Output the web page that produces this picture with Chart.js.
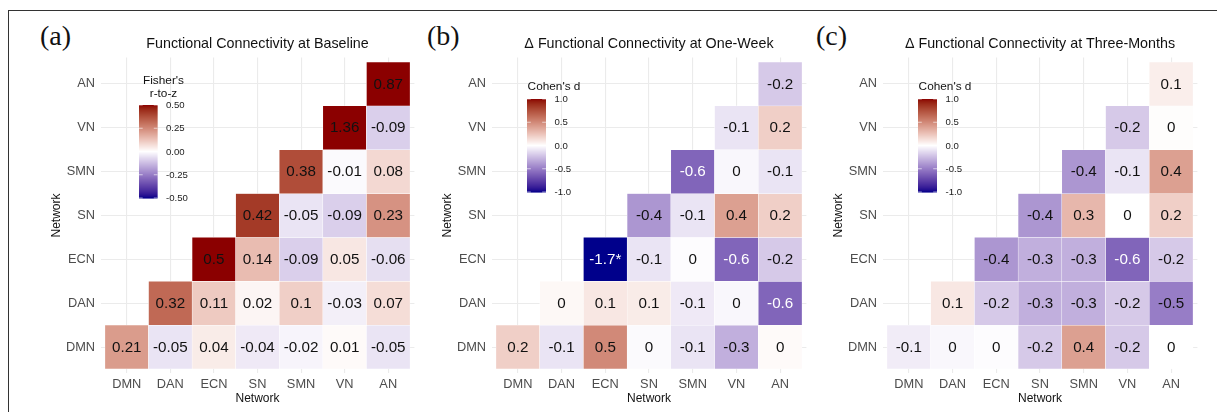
<!DOCTYPE html>
<html>
<head>
<meta charset="utf-8">
<script src="https://cdn.jsdelivr.net/npm/chart.js@4.4.1/dist/chart.umd.min.js"></script>
<style>
html,body{margin:0;padding:0;background:#fff;}
#wrap{position:relative;width:1217px;height:412px;overflow:hidden;background:#fff;}
#wrap canvas{position:absolute;left:0;top:0;}
#frame{position:absolute;left:8px;top:10px;width:1400px;height:600px;border-top:1.4px solid #333;border-left:1.6px solid #333;}
.tag{position:absolute;font-family:"Liberation Serif","DejaVu Serif",serif;font-size:28px;line-height:28px;color:#111;}
</style>
</head>
<body>
<div id="wrap">
  <div id="frame"></div>
  <div class="tag" style="left:40px;top:22px">(a)</div>
  <div class="tag" style="left:427px;top:22px">(b)</div>
  <div class="tag" style="left:816px;top:22px">(c)</div>
  <canvas id="ca" width="1217" height="412"></canvas>
  <canvas id="cb" width="1217" height="412"></canvas>
  <canvas id="cc" width="1217" height="412"></canvas>
</div>
<script>
// ---------------- data ----------------
const networks = ['DMN','DAN','ECN','SN','SMN','VN','AN'];

// Row r (network r) holds the values for columns r..6 (upper triangle)
const baselineZ = [
  [0.21, -0.05, 0.04, -0.04, -0.02, 0.01, -0.05],
  [0.32, 0.11, 0.02, 0.1, -0.03, 0.07],
  [0.5, 0.14, -0.09, 0.05, -0.06],
  [0.42, -0.05, -0.09, 0.23],
  [0.38, -0.01, 0.08],
  [1.36, -0.09],
  [0.87]
];
const oneWeekD = [
  [0.2, -0.1, 0.5, -0.02, -0.1, -0.3, 0.02],
  [0.03, 0.1, 0.08, -0.08, -0.03, -0.6],
  [-1.7, -0.1, -0.01, -0.6, -0.2],
  [-0.4, -0.1, 0.4, 0.2],
  [-0.6, -0.03, -0.1],
  [-0.1, 0.2],
  [-0.2]
];
const threeMonthD = [
  [-0.07, -0.03, -0.01, -0.2, 0.4, -0.2, 0.0],
  [0.1, -0.2, -0.3, -0.3, -0.2, -0.5],
  [-0.4, -0.3, -0.3, -0.6, -0.2],
  [-0.4, 0.3, 0.0, 0.2],
  [-0.4, -0.1, 0.4],
  [-0.2, 0.01],
  [0.07]
];
const oneWeekSignificant = ['ECN-ECN'];
const fisherBreaks = [0.5, 0.25, 0, -0.25, -0.5];
const cohenBreaks = [1, 0.5, 0, -0.5, -1];
const panelTitles = [
  'Functional Connectivity at Baseline',
  '\u0394 Functional Connectivity at One-Week',
  '\u0394 Functional Connectivity at Three-Months'
];
const legendTitles = [["Fisher's", 'r-to-z'], ["Cohen's d"], ["Cohen's d"]];

// ---------------- colour (Lab interpolation like ggplot gradient2) ----------------
function s2l(c){c/=255;return c<=0.04045?c/12.92:Math.pow((c+0.055)/1.055,2.4);}
function l2s(c){const v=c<=0.0031308?12.92*c:1.055*Math.pow(c,1/2.4)-0.055;return Math.round(Math.max(0,Math.min(1,v))*255);}
const Xn=0.95047,Yn=1,Zn=1.08883;
function fl(t){return t>0.008856?Math.cbrt(t):7.787*t+16/116;}
function fi(t){return t>0.206893?t*t*t:(t-16/116)/7.787;}
function hexToLab(h){
  const r=s2l(parseInt(h.substr(1,2),16)),g=s2l(parseInt(h.substr(3,2),16)),b=s2l(parseInt(h.substr(5,2),16));
  const X=0.4124*r+0.3576*g+0.1805*b,Y=0.2126*r+0.7152*g+0.0722*b,Z=0.0193*r+0.1192*g+0.9505*b;
  const fx=fl(X/Xn),fy=fl(Y/Yn),fz=fl(Z/Zn);
  return [116*fy-16,500*(fx-fy),200*(fy-fz)];
}
function labToRgb(L,a,b){
  const fy=(L+16)/116,fx=fy+a/500,fz=fy-b/200;
  const X=Xn*fi(fx),Y=Yn*fi(fy),Z=Zn*fi(fz);
  const r=3.2406*X-1.5372*Y-0.4986*Z,g=-0.9689*X+1.8758*Y+0.0415*Z,bb=0.0557*X-0.2040*Y+1.0570*Z;
  return 'rgb('+l2s(r)+','+l2s(g)+','+l2s(bb)+')';
}
const LAB_LOW=hexToLab('#00008B'),LAB_MID=hexToLab('#FFFFFF'),LAB_HIGH=hexToLab('#8B0000');
function fillColor(v,lim){
  let t=Math.max(-1,Math.min(1,v/lim));
  const end=t>=0?LAB_HIGH:LAB_LOW; t=Math.abs(t);
  return labToRgb(LAB_MID[0]+(end[0]-LAB_MID[0])*t,LAB_MID[1]+(end[1]-LAB_MID[1])*t,LAB_MID[2]+(end[2]-LAB_MID[2])*t);
}

// ---------------- chart builder ----------------
const FONT='"Liberation Sans", Arial, Helvetica, sans-serif';
Chart.defaults.font.family=FONT;

function buildPanel(canvasId, idx, rows, lim, digits, sigList, breaks, bDigits, area, leg){
  const pts=[],bg=[],labels=[],tcol=[];
  rows.forEach((vals,r)=>vals.forEach((v,k)=>{
    const c=r+k;
    pts.push({x:c+0.5,y:[r,r+1]});
    bg.push(fillColor(v,lim));
    const f=Math.pow(10,digits);
    let s=String(Math.round(v*f)/f);
    if(sigList.indexOf(networks[r]+'-'+networks[c])>=0) s+='*';
    labels.push(s);
    tcol.push(v<-0.55?'#ffffff':'#111111');
  }));

  const cellText={
    id:'cellText',
    afterDatasetsDraw(chart){
      const ctx=chart.ctx,meta=chart.getDatasetMeta(0);
      ctx.save();
      ctx.font='15.2px '+FONT;ctx.textAlign='center';ctx.textBaseline='middle';
      meta.data.forEach((el,i)=>{
        const p=el.getProps(['x','y','base'],true);
        ctx.fillStyle=tcol[i];
        ctx.fillText(labels[i],p.x,(p.y+p.base)/2+0.5);
      });
      ctx.restore();
    }
  };
  const decor={
    id:'decor',
    afterDraw(chart){
      const ctx=chart.ctx,ca=chart.chartArea;
      ctx.save();
      // title
      ctx.fillStyle='#111';ctx.font='14.3px '+FONT;ctx.textAlign='center';ctx.textBaseline='middle';
      ctx.fillText(panelTitles[idx],(ca.left+ca.right)/2,44);
      // colour bar
      const n=Math.round(leg.h);
      for(let k=0;k<n;k++){
        const v=lim-(k+0.5)/n*2*lim;
        ctx.fillStyle=fillColor(v,lim);
        ctx.fillRect(leg.x,leg.y+k*leg.h/n,leg.w,leg.h/n+0.6);
      }
      ctx.strokeStyle='rgba(255,255,255,0.75)';ctx.lineWidth=0.8;
      ctx.font='9.6px '+FONT;ctx.textAlign='left';
      breaks.forEach(b=>{
        const y=leg.y+(lim-b)/(2*lim)*leg.h;
        ctx.beginPath();
        ctx.moveTo(leg.x,y);ctx.lineTo(leg.x+leg.w/5,y);
        ctx.moveTo(leg.x+leg.w*4/5,y);ctx.lineTo(leg.x+leg.w,y);
        ctx.stroke();
        ctx.fillStyle='#222';
        ctx.fillText(b.toFixed(bDigits),leg.x+leg.w+8.5,y+0.5);
      });
      ctx.fillStyle='#111';ctx.font='11.8px '+FONT;ctx.textAlign='center';
      legendTitles[idx].forEach((t,i)=>ctx.fillText(t,leg.tx,leg.ty+i*13));
      ctx.restore();
    }
  };

  const axisCommon={
    type:'linear',min:-0.1,max:7.1,offset:false,
    afterBuildTicks:s=>{s.ticks=networks.map((_,i)=>({value:i+0.5}));},
    grid:{color:'#EBEBEB',lineWidth:1.1,drawTicks:false,offset:false},
    border:{display:false}
  };

  return new Chart(document.getElementById(canvasId),{
    type:'bar',
    data:{datasets:[{
      data:pts,backgroundColor:bg,borderColor:'#ffffff',borderWidth:0.5,borderSkipped:false,
      barPercentage:1,categoryPercentage:1
    }]},
    options:{
      responsive:false,animation:false,events:[],
      layout:{padding:{left:area.left-60.6,right:1217-area.right,top:57.6,bottom:0}},
      plugins:{legend:{display:false},tooltip:{enabled:false},title:{display:false}},
      scales:{
        x:Object.assign({},axisCommon,{
          ticks:{callback:v=>networks[Math.floor(v)],color:'#4D4D4D',font:{size:12.8},padding:3,autoSkip:false,maxRotation:0},
          title:{display:true,text:'Network',color:'#111',font:{size:12},padding:{top:0,bottom:5.8}},
          afterFit:s=>{s.height=38.6;}
        }),
        y:Object.assign({},axisCommon,{
          ticks:{callback:v=>networks[Math.floor(v)],color:'#4D4D4D',font:{size:12.8},padding:5.5,autoSkip:false},
          title:{display:true,text:'Network',color:'#111',font:{size:12},padding:{top:9.8,bottom:0}},
          afterFit:s=>{s.width=60.6;}
        })
      }
    },
    plugins:[cellText,decor]
  });
}

buildPanel('ca',0,baselineZ,0.5,2,[],fisherBreaks,2,{left:100.6,right:414.4},
  {x:139,y:105,w:18.5,h:93,tx:163.5,ty:81});
buildPanel('cb',1,oneWeekD,1,1,oneWeekSignificant,cohenBreaks,1,{left:491.6,right:806.4},
  {x:527,y:99,w:19,h:93,tx:554,ty:87});
buildPanel('cc',2,threeMonthD,1,1,[],cohenBreaks,1,{left:882.6,right:1197.4},
  {x:918,y:99,w:19,h:93,tx:945,ty:87});
</script>
</body>
</html>
